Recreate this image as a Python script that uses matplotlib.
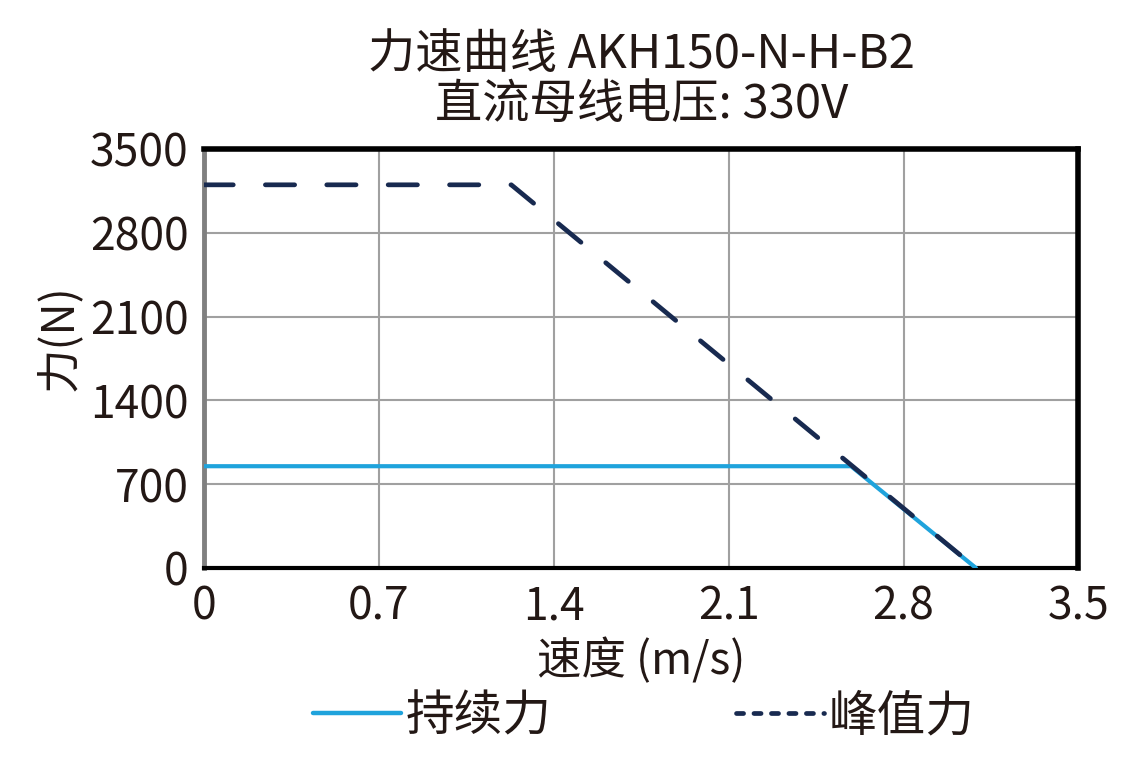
import matplotlib.pyplot as plt
from matplotlib.lines import Line2D

plt.rcParams['font.family'] = ['Noto Sans CJK SC', 'DejaVu Sans']

# 峰值力曲线
peak_speed = [0, 1.23, 3.09]
peak_force = [3200, 3200, 0]
# 持续力曲线
cont_speed = [0, 2.59, 3.09]
cont_force = [850, 850, 0]

x_ticks = [0, 0.7, 1.4, 2.1, 2.8, 3.5]
x_labels = ['0', '0.7', '1.4', '2.1', '2.8', '3.5']
y_ticks = [0, 700, 1400, 2100, 2800, 3500]

text_color = '#231815'
cont_color = '#1fa3dc'
peak_color = '#182a50'

fig = plt.figure(figsize=(11.46, 7.62), dpi=100)
ax = fig.add_axes([0.178, 0.2546, 0.763, 0.55])

ax.plot(cont_speed, cont_force, color=cont_color, lw=3,
        solid_capstyle='round', zorder=3)
ax.plot(peak_speed, peak_force, color=peak_color, lw=3.4, dashes=(6.2, 6.8),
        dash_capstyle='round', zorder=4)

ax.set_xlim(0, 3.5)
ax.set_ylim(0, 3500)
ax.set_xticks(x_ticks)
ax.set_xticklabels(x_labels)
ax.set_yticks(y_ticks)
ax.tick_params(length=0, labelsize=32, labelcolor=text_color)
ax.tick_params(axis='x', pad=11)
ax.tick_params(axis='y', pad=11)
ax.grid(color='#a0a0a0', lw=1.5)
ax.set_axisbelow(True)

ax.spines['top'].set_linewidth(4)
ax.spines['right'].set_linewidth(4)
ax.spines['top'].set_color('black')
ax.spines['right'].set_color('black')
ax.spines['left'].set_color('#808080')
ax.spines['left'].set_linewidth(3.5)
ax.spines['bottom'].set_color('black')
ax.spines['bottom'].set_linewidth(3)

ax.set_xlabel('速度 (m/s)', fontsize=32, color=text_color, labelpad=6)
ax.set_ylabel('力(N)', fontsize=32, color=text_color)
ax.yaxis.set_label_coords(-0.14, 0.55)

ax.set_title('力速曲线 AKH150-N-H-B2\n直流母线电压: 330V', fontsize=34,
             color=text_color, linespacing=1.05, pad=22)

handles = [
    Line2D([], [], color=cont_color, lw=3.2, solid_capstyle='round'),
    Line2D([], [], color=peak_color, lw=3.4, dashes=(1.5, 2.2),
           dash_capstyle='round'),
]
leg = fig.legend(handles, ['持续力', '峰值力'], loc='lower center',
                 bbox_to_anchor=(0.562, -0.03), ncol=2, frameon=False,
                 fontsize=35, handlelength=1.8, handletextpad=0.1,
                 columnspacing=3.8)
for t in leg.get_texts():
    t.set_color(text_color)

fig.savefig('out.png', dpi=100)
